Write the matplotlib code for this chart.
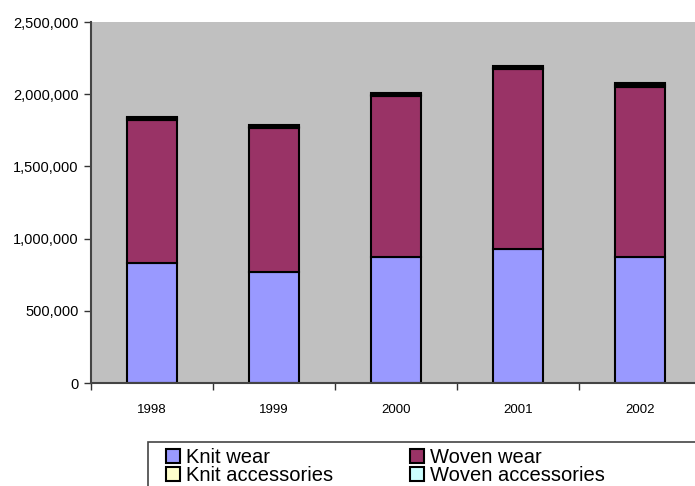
import matplotlib.pyplot as plt
import numpy as np
from matplotlib.ticker import FuncFormatter
from matplotlib.patches import Rectangle

plt.rcParams['font.family'] = ['Liberation Sans', 'DejaVu Sans']

# export values by year (pieces)
years = ['1998', '1999', '2000', '2001', '2002']
knit_wear = [831000, 769000, 873000, 928000, 873000]
woven_wear = [992000, 994000, 1113000, 1245000, 1180000]
knit_accessories = [10000, 10000, 10000, 10000, 10000]
woven_accessories = [12000, 12000, 12000, 12000, 12000]

series = [
    ('Knit wear', knit_wear, '#9999FF'),
    ('Woven wear', woven_wear, '#993366'),
    ('Knit accessories', knit_accessories, '#FFFFCC'),
    ('Woven accessories', woven_accessories, '#CCFFFF'),
]

fig = plt.figure(figsize=(6.95, 4.86), dpi=100)
ax = fig.add_axes([91 / 695, 1 - 383 / 486, 610 / 695, 361 / 486])
ax.set_facecolor('#C0C0C0')

x = np.arange(len(years))
bottom = np.zeros(len(years))
handles = {}
for name, vals, col in series:
    b = ax.bar(x, vals, width=0.41, bottom=bottom, color=col,
               edgecolor='black', linewidth=1.5, label=name)
    handles[name] = b
    bottom += np.array(vals)

ax.set_xlim(-0.5, 4.5)
ax.set_ylim(0, 2500000)
ax.set_yticks(np.arange(0, 2500001, 500000))
ax.yaxis.set_major_formatter(FuncFormatter(lambda v, p: f'{int(v):,}'))

ax.set_xticks(x)
ax.set_xticklabels(years)
ax.set_xticks(np.arange(-0.5, 4.6, 1), minor=True)
ax.tick_params(axis='x', which='major', length=0, pad=15, labelsize=9.5)
ax.tick_params(axis='x', which='minor', length=5, width=1, color='#333333')
ax.tick_params(axis='y', length=5, width=1, color='#333333', labelsize=10.5, pad=4)

for s in ['top', 'right']:
    ax.spines[s].set_visible(False)
for s in ['left', 'bottom']:
    ax.spines[s].set_linewidth(1.5)
    ax.spines[s].set_color('#444444')

# legend fills row by row: Knit wear / Woven wear, then the accessories
order = ['Knit wear', 'Knit accessories', 'Woven wear', 'Woven accessories']
leg = fig.legend([handles[n] for n in order], order, loc='upper left', ncol=2,
                 bbox_to_anchor=(166 / 695, 1 - 448 / 486),
                 fontsize=14.5, frameon=False,
                 handlelength=0.7, handleheight=0.7, handletextpad=0.3,
                 columnspacing=3.8, labelspacing=-0.05, borderpad=0,
                 borderaxespad=0)
for h in leg.legend_handles:
    h.set_linewidth(1.5)

fig.add_artist(Rectangle((148 / 695, -0.1), 1.0, 1 - 442 / 486 + 0.1,
                         transform=fig.transFigure, fill=False,
                         edgecolor='#444444', linewidth=1.2))

fig.savefig('out.png', dpi=100)
